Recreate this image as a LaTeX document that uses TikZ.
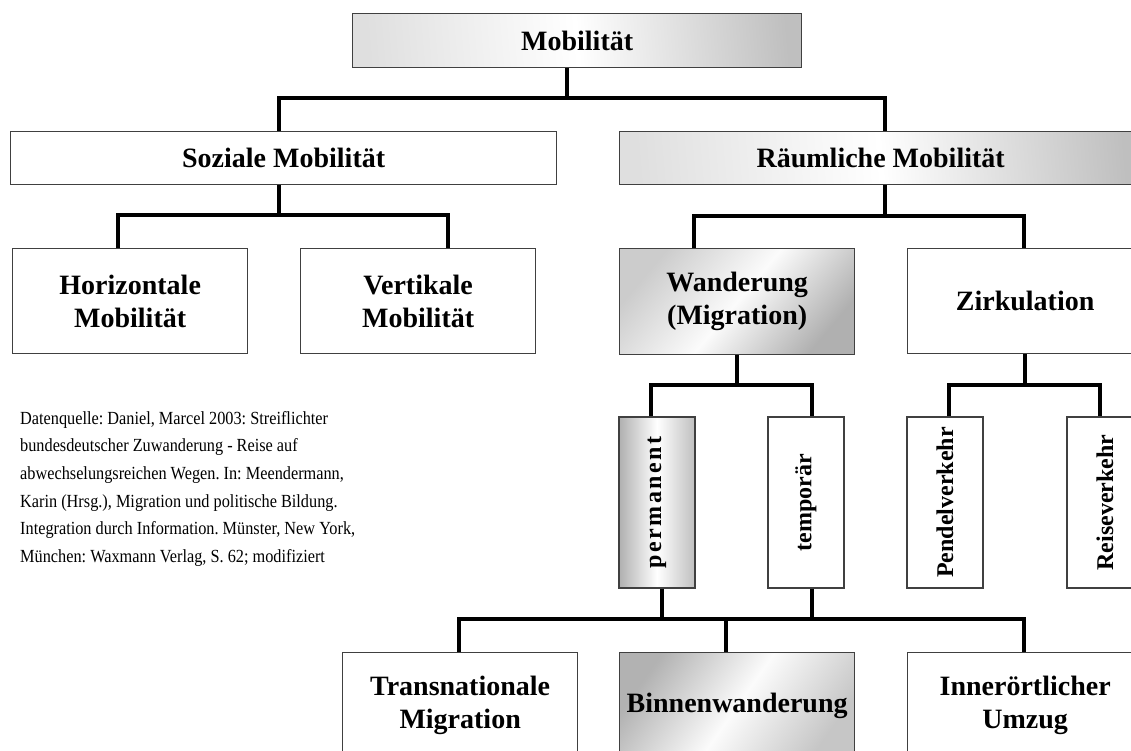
\documentclass[tikz,border=0pt]{standalone}
\usepackage{fontspec}
\setmainfont{Liberation Serif}
\newfontfamily\lsfont{Liberation Serif Bold}[LetterSpace=10]
\newfontfamily\srcfont{Liberation Serif}[FakeStretch=0.88]
\usetikzlibrary{calc}
\frenchspacing
\begin{document}
\begin{tikzpicture}[x=1pt,y=-1pt,
  box/.style={draw=black!75, line width=1.3pt, inner sep=0pt, anchor=north west,
    align=center, font=\bfseries\fontsize{28}{33.3}\selectfont, fill=white},
  vbox/.style={draw=black!75, line width=1.3pt, inner sep=0pt, anchor=center,
    minimum width=76pt, minimum height=171pt, fill=white,
    font=\bfseries\fontsize{24}{28}\selectfont},
  shadeA/.style={left color=gray!25, right color=gray!50, middle color=white, shading angle=95},
  shadeW/.style={left color=gray!40, right color=gray!62, middle color=gray!3, shading angle=50},
  shadeB/.style={left color=gray!60, right color=gray!45, middle color=gray!3, shading angle=55},
  shadeP/.style={left color=gray!62, right color=gray!50, middle color=white, shading angle=90},
  conn/.style={line width=4pt, line join=miter, line cap=butt}]
\useasboundingbox (0,0) rectangle (1131,751);
\clip (0,0) rectangle (1131,751);

% boxes
\node[box, shadeA, minimum width=449pt, minimum height=54pt] (mob) at (352,13) {Mobilität};
\node[box, minimum width=546pt, minimum height=53pt] (soz) at (10,131) {Soziale Mobilität};
\node[box, shadeA, minimum width=522pt, minimum height=53pt] (rau) at (619,131) {Räumliche Mobilität};
\node[box, minimum width=235pt, minimum height=105pt] (hor) at (12,248) {Horizontale\\Mobilität};
\node[box, minimum width=235pt, minimum height=105pt] (ver) at (300,248) {Vertikale\\Mobilität};
\node[box, shadeW, minimum width=235pt, minimum height=106pt] (wan) at (619,248) {Wanderung\\(Migration)};
\node[box, minimum width=235pt, minimum height=105pt] (zir) at (907,248) {Zirkulation};

\node[vbox, shadeP] (perm) at (657,502.5) {\rotatebox{90}{\lsfont\fontsize{24}{28}\selectfont permanent}};
\node[vbox] (temp) at (806,502.5) {\rotatebox{90}{temporär}};
\node[vbox] (pend) at (945,502.5) {\rotatebox{90}{Pendelverkehr}};
\node[vbox] (reis) at (1105,502.5) {\rotatebox{90}{Reiseverkehr}};

\node[box, minimum width=235pt, minimum height=106pt] (tra) at (342,652) {Transnationale\\Migration};
\node[box, shadeB, minimum width=235pt, minimum height=106pt] (bin) at (619,652) {Binnenwanderung};
\node[box, minimum width=235pt, minimum height=106pt] (inn) at (907,652) {Innerörtlicher\\Umzug};

\node[anchor=north west, inner sep=0pt, align=left,
  font=\srcfont\fontsize{18.5}{27.6}\selectfont] (src) at (20,411)
  {Datenquelle: Daniel, Marcel 2003: Streiflichter\\
   bundesdeutscher Zuwanderung - Reise auf\\
   abwechselungsreichen Wegen. In: Meendermann,\\
   Karin (Hrsg.), Migration und politische Bildung.\\
   Integration durch Information. Münster, New York,\\
   München: Waxmann Verlag, S. 62; modifiziert};

% connector columns and buses
\coordinate (bA) at (567,98);
\coordinate (xA1) at (279,0);
\coordinate (xA2) at (885,0);
\draw[conn] (mob.south -| bA) -- (bA);
\draw[conn] (soz.north -| xA1) |- (bA) -| (rau.north -| xA2);

\coordinate (bB) at (279,215);
\coordinate (xB1) at (118,0);
\coordinate (xB2) at (448,0);
\draw[conn] (soz.south -| bB) -- (bB);
\draw[conn] (hor.north -| xB1) |- (bB) -| (ver.north -| xB2);

\coordinate (bC) at (885,216);
\coordinate (xC1) at (694,0);
\coordinate (xC2) at (1024,0);
\draw[conn] (rau.south -| bC) -- (bC);
\draw[conn] (wan.north -| xC1) |- (bC) -| (zir.north -| xC2);

\coordinate (bD) at (737,385);
\coordinate (xD1) at (651,0);
\coordinate (xD2) at (812,0);
\draw[conn] (wan.south -| bD) -- (bD);
\draw[conn] (perm.north -| xD1) |- (bD) -| (temp.north -| xD2);

\coordinate (bE) at (1025,385);
\coordinate (xE1) at (949,0);
\coordinate (xE2) at (1100,0);
\draw[conn] (zir.south -| bE) -- (bE);
\draw[conn] (pend.north -| xE1) |- (bE) -| (reis.north -| xE2);

\coordinate (bF) at (726,619);
\coordinate (xF1) at (662,0);
\coordinate (xF2) at (812,0);
\coordinate (xF3) at (459,0);
\coordinate (xF4) at (1024,0);
\draw[conn] (perm.south -| xF1) -- (xF1 |- bF);
\draw[conn] (temp.south -| xF2) -- (xF2 |- bF);
\draw[conn] (bin.north -| bF) -- (bF);
\draw[conn] (tra.north -| xF3) |- (bF) -| (inn.north -| xF4);
\end{tikzpicture}
\end{document}
